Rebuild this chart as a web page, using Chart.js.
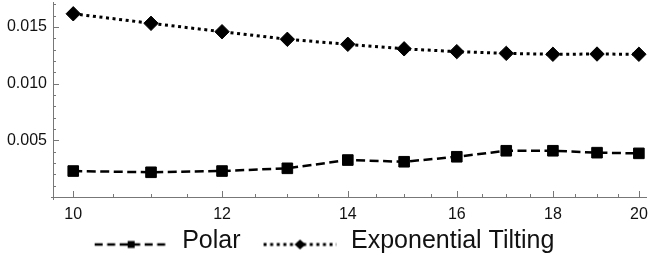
<!DOCTYPE html>
<html>
<head>
<meta charset="utf-8">
<script src="https://cdn.jsdelivr.net/npm/chart.js@4/dist/chart.umd.min.js"></script>
<style>
  html, body { margin: 0; padding: 0; background: #fff; }
  canvas { display: block; }
</style>
</head>
<body>
<canvas id="chart" width="650" height="262"></canvas>
<script>
// data
const sizes = [10, 11, 12, 13, 14, 15, 16, 17, 18, 19, 20];
const polar = [0.00229, 0.00218, 0.00229, 0.00253, 0.00326, 0.00311, 0.00355, 0.00408, 0.00408, 0.00391, 0.00385];
const expTilting = [0.01616, 0.01532, 0.01458, 0.01391, 0.01347, 0.01307, 0.01282, 0.01267, 0.01259, 0.01261, 0.01259];

const xTicks = [10, 10.5, 11, 11.5, 12, 12.5, 13, 13.5, 14, 14.5, 15, 15.5, 16, 16.5, 17, 17.5, 18, 18.5, 19, 19.5, 20];
const xLabels = [10, 12, 14, 16, 18, 20];
const yTicks = [0.001, 0.002, 0.003, 0.004, 0.005, 0.006, 0.007, 0.008, 0.009, 0.010,
                0.011, 0.012, 0.013, 0.014, 0.015, 0.016, 0.017];
const yLabels = [0.005, 0.010, 0.015];

const AXIS = '#777';
const TEXT = '#111';
const FONT = "'Liberation Sans', Arial, sans-serif";

const isLabel = (list, v) => list.some(l => Math.abs(l - v) < 1e-9);

// legend icons: line sample with the marker in the middle (left margin = gap to previous item)
function makeIcon(kind) {
  const c = document.createElement('canvas');
  c.width = 92; c.height = 24;
  const g = c.getContext('2d');
  const x0 = 17, x1 = 90, mid = (x0 + x1) / 2;
  const cy = 15;
  g.strokeStyle = '#000';
  g.fillStyle = '#000';
  if (kind === 'polar') {
    g.lineWidth = 2.5;
    g.setLineDash([8, 4.5]);
  } else {
    g.lineWidth = 3;
    g.setLineDash([3, 3.6]);
  }
  g.beginPath();
  g.moveTo(x0, cy);
  g.lineTo(x1, cy);
  g.stroke();
  g.setLineDash([]);
  if (kind === 'polar') {
    g.fillRect(mid - 3.5, cy - 3.5, 7, 7);
  } else {
    g.beginPath();
    g.moveTo(mid - 5.5, cy);
    g.lineTo(mid, cy - 5);
    g.lineTo(mid + 5.5, cy);
    g.lineTo(mid, cy + 5);
    g.closePath();
    g.fill();
  }
  return c;
}
const icons = [makeIcon('polar'), makeIcon('exp')];

// Mathematica-style axes: ticks pointing inward, small overhang at the origin
const axisTicks = {
  id: 'axisTicks',
  beforeDatasetsDraw(chart) {
    const { ctx, chartArea: a, scales: { x, y } } = chart;
    ctx.save();
    ctx.strokeStyle = AXIS;
    ctx.lineWidth = 1;
    ctx.beginPath();
    ctx.moveTo(a.left - 2, a.bottom + 0.5);
    ctx.lineTo(a.right, a.bottom + 0.5);
    ctx.moveTo(a.left + 0.5, a.top);
    ctx.lineTo(a.left + 0.5, a.bottom + 3);
    xTicks.forEach(v => {
      const px = Math.round(x.getPixelForValue(v)) + 0.5;
      const len = isLabel(xLabels, v) ? 6 : 3;
      ctx.moveTo(px, a.bottom);
      ctx.lineTo(px, a.bottom - len);
    });
    yTicks.forEach(v => {
      const py = Math.round(y.getPixelForValue(v)) + 0.5;
      const len = isLabel(yLabels, v) ? 6 : 3;
      ctx.moveTo(a.left, py);
      ctx.lineTo(a.left + len, py);
    });
    ctx.stroke();
    ctx.restore();
  }
};

const defaultLabels = Chart.defaults.plugins.legend.labels.generateLabels;

new Chart(document.getElementById('chart'), {
  type: 'line',
  data: {
    datasets: [{
      label: 'Polar',
      data: sizes.map((s, i) => ({ x: s, y: polar[i] })),
      borderColor: '#000',
      backgroundColor: '#000',
      borderWidth: 2.5,
      borderDash: [9, 4.5],
      pointStyle: 'rect',
      pointRadius: 7.5,
      pointBorderWidth: 1,
      pointBackgroundColor: '#000',
      tension: 0
    }, {
      label: 'Exponential Tilting',
      data: sizes.map((s, i) => ({ x: s, y: expTilting[i] })),
      borderColor: '#000',
      backgroundColor: '#000',
      borderWidth: 3,
      borderDash: [3, 3.6],
      pointStyle: 'rectRot',
      pointRadius: 7.2,
      pointBorderWidth: 1,
      pointBackgroundColor: '#000',
      tension: 0
    }]
  },
  options: {
    responsive: false,
    animation: false,
    clip: false,
    layout: { autoPadding: false, padding: { left: -15, right: 3, top: 2, bottom: -2 } },
    plugins: {
      tooltip: { enabled: false },
      legend: {
        position: 'bottom',
        labels: {
          usePointStyle: true,
          pointStyleWidth: 92,
          padding: 6,
          color: TEXT,
          font: { family: FONT, size: 25 },
          generateLabels: chart => defaultLabels(chart).map((item, i) => ({ ...item, pointStyle: icons[i] }))
        }
      }
    },
    scales: {
      x: {
        type: 'logarithmic',
        min: 9.755,
        max: 20.2,
        grid: { display: false, drawTicks: false },
        border: { display: false },
        afterBuildTicks: scale => { scale.ticks = xTicks.map(v => ({ value: v })); },
        afterFit: scale => {
          scale.height = 26;
          scale.paddingLeft = 0;
          scale.paddingRight = 0;
        },
        ticks: {
          autoSkip: false,
          maxRotation: 0,
          padding: 8,
          color: TEXT,
          font: { family: FONT, size: 16 },
          callback: v => isLabel(xLabels, v) ? String(v) : ''
        }
      },
      y: {
        type: 'linear',
        min: 0,
        max: 0.0172,
        grid: { display: false, drawTicks: false },
        border: { display: false },
        afterBuildTicks: scale => { scale.ticks = yTicks.map(v => ({ value: v })); },
        afterFit: scale => {
          scale.width = 68;
          scale.paddingTop = 0;
          scale.paddingBottom = 0;
        },
        ticks: {
          autoSkip: false,
          padding: 6,
          color: TEXT,
          font: { family: FONT, size: 16 },
          callback: v => isLabel(yLabels, v) ? v.toFixed(3) : ''
        }
      }
    }
  },
  plugins: [axisTicks]
});
</script>
</body>
</html>
